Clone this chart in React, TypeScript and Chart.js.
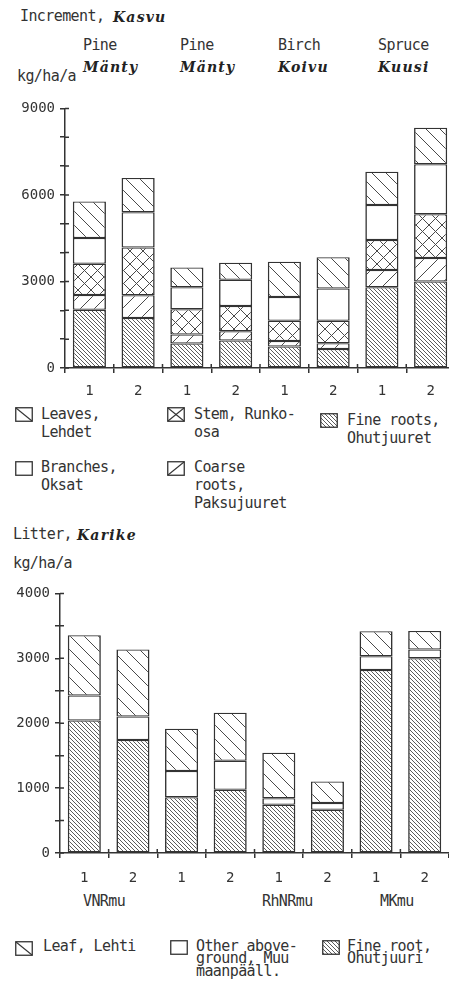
import React, { useEffect, useRef } from 'react';
import { Chart, registerables } from 'chart.js';

Chart.register(...registerables);

// ---------- data ----------
const incCategories = ['1', '2', '1', '2', '1', '2', '1', '2'];
const incFineRoots = [2020, 1730, 850, 950, 745, 660, 2800, 3000];
const incCoarseRoots = [510, 790, 310, 320, 195, 200, 600, 810];
const incStem = [1080, 1660, 880, 880, 700, 780, 1040, 1520];
const incBranches = [900, 1220, 760, 910, 820, 1120, 1215, 1735];
const incLeaves = [1260, 1190, 680, 590, 1220, 1080, 1150, 1265];
const incYMax = 9000;
const incYStep = 1000;
const incYLabelEvery = 3000;
const incGroupsEn = ['Pine', 'Pine', 'Birch', 'Spruce'];
const incGroupsFi = ['Mänty', 'Mänty', 'Koivu', 'Kuusi'];

const litCategories = ['1', '2', '1', '2', '1', '2', '1', '2'];
const litFineRoot = [2040, 1740, 860, 975, 745, 665, 2820, 3000];
const litOther = [385, 365, 405, 445, 100, 105, 210, 135];
const litLeaf = [930, 1030, 650, 740, 700, 330, 385, 285];
const litYMax = 4000;
const litYStep = 500;
const litYLabelEvery = 1000;
const litSites = ['VNRmu', 'RhNRmu', 'MKmu'];

// ---------- layout / style ----------
const INK = '#333333';
const HATCH = '#4a4a4a';
const MONO = '"DejaVu Sans Mono", monospace';
const SERIF = '"DejaVu Serif", serif';
const groupX = [83, 180, 278, 378];
const siteX = [83, 262, 380];

type Kind = 'diag' | 'slash' | 'cross' | 'dense' | 'empty';

function makePattern(kind: Kind): CanvasPattern | string {
  if (kind === 'empty') return '#ffffff';
  const p = kind === 'dense' ? 4 : kind === 'cross' ? 13 : 14;
  const c = document.createElement('canvas');
  c.width = p;
  c.height = p;
  const g = c.getContext('2d')!;
  g.fillStyle = '#ffffff';
  g.fillRect(0, 0, p, p);
  g.strokeStyle = HATCH;
  g.lineWidth = kind === 'dense' ? 0.9 : 1;
  g.beginPath();
  for (const o of [-p, 0, p]) {
    if (kind === 'diag' || kind === 'dense' || kind === 'cross') {
      g.moveTo(o, 0);
      g.lineTo(o + p, p);
    }
    if (kind === 'slash' || kind === 'cross') {
      g.moveTo(o, p);
      g.lineTo(o + p, 0);
    }
  }
  g.stroke();
  return g.createPattern(c, 'repeat')!;
}

const innerTicks = {
  id: 'innerTicks',
  afterDraw(chart: any) {
    const { ctx, chartArea, scales } = chart;
    const x = scales.x;
    const y = scales.y;
    ctx.save();
    ctx.strokeStyle = INK;
    ctx.lineWidth = 1.5;
    ctx.beginPath();
    y.ticks.forEach((t: any) => {
      const py = y.getPixelForValue(t.value);
      ctx.moveTo(chartArea.left, py);
      ctx.lineTo(chartArea.left + 4, py);
    });
    const half = (x.getPixelForValue(1) - x.getPixelForValue(0)) / 2;
    for (let i = 1; i < x.ticks.length; i++) {
      const px = x.getPixelForValue(i) - half;
      ctx.moveTo(px, chartArea.bottom - 4);
      ctx.lineTo(px, chartArea.bottom);
    }
    ctx.stroke();
    ctx.restore();
  },
};

function barDs(label: string, data: number[], kind: Kind) {
  return {
    label,
    data,
    backgroundColor: makePattern(kind),
    borderColor: INK,
    borderWidth: { top: 1.25, bottom: 1.25, left: 1.6, right: 1.6 },
    borderSkipped: false,
    barPercentage: 0.68,
    categoryPercentage: 1.0,
  };
}

function makeOptions(yMax: number, step: number, every: number, yWidth: number, padTop: number, xPad: number) {
  return {
    animation: false,
    responsive: true,
    maintainAspectRatio: false,
    layout: { padding: { top: padTop, left: 0, right: 0, bottom: 0 } },
    plugins: { legend: { display: false }, tooltip: { enabled: false }, title: { display: false } },
    scales: {
      x: {
        stacked: true,
        grid: { offset: true, drawOnChartArea: false, drawTicks: true, tickLength: 5, color: INK, lineWidth: 1.5 },
        border: { display: true, color: INK, width: 1.5 },
        ticks: { color: INK, font: { family: MONO, size: 14 }, padding: xPad, autoSkip: false, maxRotation: 0 },
        afterFit: (s: any) => {
          s.height = 37;
        },
      },
      y: {
        stacked: true,
        min: 0,
        max: yMax,
        grid: { drawOnChartArea: false, drawTicks: true, tickLength: 5, color: INK, lineWidth: 1.5 },
        border: { display: true, color: INK, width: 1.5 },
        ticks: {
          stepSize: step,
          autoSkip: false,
          color: INK,
          font: { family: MONO, size: 14 },
          padding: 5,
          callback: (v: any) => (Number(v) % every === 0 ? String(v) : ''),
        },
        afterFit: (s: any) => {
          s.width = yWidth;
        },
      },
    },
  };
}

function Txt(props: { x: number; base: number; lines: string[]; size?: number; lh?: number; serif?: boolean; ls?: number }) {
  const size = props.size ?? 15;
  const lh = props.lh ?? 18;
  const hl = (lh - 1.164 * size) / 2;
  const top = props.base - (hl + 0.928 * size);
  return (
    <div
      style={{
        position: 'absolute',
        left: props.x,
        top,
        fontFamily: props.serif ? SERIF : MONO,
        fontWeight: props.serif ? 'bold' : 'normal',
        fontStyle: props.serif ? 'italic' : 'normal',
        fontSize: size,
        lineHeight: lh + 'px',
        letterSpacing: (props.ls ?? (props.serif ? 1.2 : -0.6)) + 'px',
        whiteSpace: 'pre',
        color: props.serif ? '#222' : INK,
      }}
    >
      {props.lines.map((l, i) => (
        <div key={i}>{l}</div>
      ))}
    </div>
  );
}

function Swatch(props: { x: number; y: number; kind: Kind; id: string }) {
  const w = 18;
  const h = 15;
  const { kind } = props;
  return (
    <svg style={{ position: 'absolute', left: props.x, top: props.y }} width={w} height={h}>
      <defs>
        <pattern id={props.id} width={4} height={4} patternUnits="userSpaceOnUse">
          <path d="M-1,-1 L5,5 M-5,-1 L1,5 M3,-1 L9,5" stroke={HATCH} strokeWidth={0.9} />
        </pattern>
      </defs>
      <rect x={0.75} y={0.75} width={w - 1.5} height={h - 1.5} fill={kind === 'dense' ? `url(#${props.id})` : '#fff'} stroke={INK} strokeWidth={1.3} />
      {(kind === 'diag' || kind === 'cross') && <line x1={1} y1={1} x2={w - 1} y2={h - 1} stroke={INK} strokeWidth={1.1} />}
      {(kind === 'slash' || kind === 'cross') && <line x1={1} y1={h - 1} x2={w - 1} y2={1} stroke={INK} strokeWidth={1.1} />}
    </svg>
  );
}

export default function App() {
  const incRef = useRef<HTMLCanvasElement>(null);
  const litRef = useRef<HTMLCanvasElement>(null);

  useEffect(() => {
    const c1 = new Chart(incRef.current!, {
      type: 'bar',
      data: {
        labels: incCategories,
        datasets: [
          barDs('Fine roots, Ohutjuuret', incFineRoots, 'dense'),
          barDs('Coarse roots, Paksujuuret', incCoarseRoots, 'slash'),
          barDs('Stem, Runko-osa', incStem, 'cross'),
          barDs('Branches, Oksat', incBranches, 'empty'),
          barDs('Leaves, Lehdet', incLeaves, 'diag'),
        ] as any,
      },
      options: makeOptions(incYMax, incYStep, incYLabelEvery, 65, 10, 10) as any,
      plugins: [innerTicks],
    });
    const c2 = new Chart(litRef.current!, {
      type: 'bar',
      data: {
        labels: litCategories,
        datasets: [
          barDs('Fine root, Ohutjuuri', litFineRoot, 'dense'),
          barDs('Other aboveground, Muu maanpääll.', litOther, 'empty'),
          barDs('Leaf, Lehti', litLeaf, 'diag'),
        ] as any,
      },
      options: makeOptions(litYMax, litYStep, litYLabelEvery, 60, 11, 12) as any,
      plugins: [innerTicks],
    });
    return () => {
      c1.destroy();
      c2.destroy();
    };
  }, []);

  return (
    <div style={{ position: 'absolute', left: 0, top: 0, width: 449, height: 990, overflow: 'hidden', background: '#fff' }}>
      {/* Increment panel */}
      <Txt x={20} base={21} lines={['Increment,']} />
      <Txt x={113} base={22} lines={['Kasvu']} serif size={14} />
      {incGroupsEn.map((g, i) => (
        <Txt key={'en' + i} x={groupX[i]} base={50} lines={[g]} />
      ))}
      {incGroupsFi.map((g, i) => (
        <Txt key={'fi' + i} x={groupX[i]} base={72} lines={[g]} serif size={14} />
      ))}
      <Txt x={17} base={81} lines={['kg/ha/a']} />
      <div style={{ position: 'absolute', left: 0, top: 95, width: 455, height: 310 }}>
        <canvas ref={incRef} />
      </div>
      <Swatch x={15} y={407} kind="diag" id="s1" />
      <Txt x={41} base={419} lines={['Leaves,', 'Lehdet']} />
      <Swatch x={167} y={407} kind="cross" id="s2" />
      <Txt x={194} base={419} lines={['Stem, Runko-', 'osa']} />
      <Swatch x={320} y={413} kind="dense" id="s3" />
      <Txt x={347} base={425} lines={['Fine roots,', 'Ohutjuuret']} />
      <Swatch x={15} y={461} kind="empty" id="s4" />
      <Txt x={41} base={472} lines={['Branches,', 'Oksat']} />
      <Swatch x={167} y={461} kind="slash" id="s5" />
      <Txt x={194} base={472} lines={['Coarse', 'roots,', 'Paksujuuret']} />

      {/* Litter panel */}
      <Txt x={13} base={539} lines={['Litter,']} />
      <Txt x={77} base={540} lines={['Karike']} serif size={14} />
      <Txt x={13} base={568} lines={['kg/ha/a']} />
      <div style={{ position: 'absolute', left: 0, top: 580, width: 449, height: 310 }}>
        <canvas ref={litRef} />
      </div>
      {litSites.map((s, i) => (
        <Txt key={'site' + i} x={siteX[i]} base={906} lines={[s]} />
      ))}
      <Swatch x={15} y={941} kind="diag" id="s6" />
      <Txt x={43} base={951} lines={['Leaf, Lehti']} lh={12.5} />
      <Swatch x={170} y={940} kind="empty" id="s7" />
      <Txt x={196} base={951} lines={['Other above-', 'ground, Muu', 'maanpääll.']} lh={12.5} />
      <Swatch x={322} y={940} kind="dense" id="s8" />
      <Txt x={347} base={951} lines={['Fine root,', 'Ohutjuuri']} lh={12.5} />
    </div>
  );
}
